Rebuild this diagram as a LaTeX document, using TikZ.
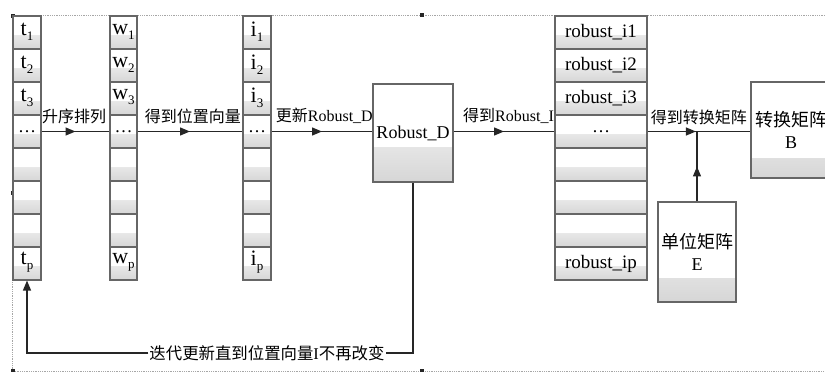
\documentclass[tikz,border=0pt]{standalone}
\usepackage{fontspec}
\setmainfont{Liberation Serif}
\newfontfamily\cjk{Noto Sans CJK SC}
\usetikzlibrary{arrows.meta,decorations.markings}
\newcommand\lsub[1]{\raisebox{-5pt}{\fontsize{13}{13}\selectfont #1}}
\tikzset{
  bottomshade/.style={path picture={\shade[top color=white,bottom color=black!16]
     (path picture bounding box.south west) rectangle ([yshift=#1]path picture bounding box.south east);}},
  cellbox/.style={draw=black!60, line width=1.1pt, minimum width=#1, minimum height=33pt,
     inner sep=0pt, fill=white, bottomshade=14pt},
  cellbox/.default=28pt,
  rcell/.style={cellbox=92pt},
  ctext/.style={inner sep=0pt, font=\fontsize{22}{22}\selectfont},
  rtext/.style={inner sep=0pt, font=\fontsize{19}{19}\selectfont},
  bigbox/.style={draw=black!60, line width=1.1pt, inner sep=0pt, fill=white, align=center,
     font=\fontsize{18}{22}\selectfont},
  lbl/.style={inner sep=0pt, font=\fontsize{16}{16}\selectfont},
  flow/.style={draw=black!85, line width=1.3pt},
  midarrow/.style={postaction={decorate}, decoration={markings,
     mark=at position #1 with {\arrow{Triangle[length=10pt,width=8pt]}}}},
  handle/.style={fill=black!85},
}
\begin{document}
\begin{tikzpicture}[x=1pt,y=-1pt]
\useasboundingbox (0,0) rectangle (825,372);
\clip (0,0) rectangle (825,372);
% selection frame
\draw[black!35, densely dotted, line width=0.8pt] (825,15) -- (12,15) -- (12,371) -- (825,371);
\foreach \hx/\hy in {13/16,13/193,13/371,422/15,422/371}
  \fill[handle] (\hx-2,\hy-2) rectangle (\hx+2,\hy+2);

% labels (drawn before columns)
\node[lbl, anchor=south west] (l1) at (42,124) {\cjk 升序排列};
\node[lbl, anchor=south east] (l2) at (241,124) {\cjk 得到位置向量};
\node[lbl, anchor=south east] (l3) at (373,124) {{\cjk 更新}Robust\_D};
\node[lbl, anchor=south west] (l4) at (463,124) {{\cjk 得到}Robust\_I};
\node[lbl, anchor=south east] (l5) at (747,125) {\cjk 得到转换矩阵};

% columns
\foreach \r/\yy in {1/32.5,2/65.5,3/98.5,4/131.5,5/164.5,6/197.5,7/230.5,8/263.5}{
  \node[cellbox] (t\r) at (27,\yy) {};
  \node[cellbox=27pt] (w\r) at (123.5,\yy) {};
  \node[cellbox] (i\r) at (257,\yy) {};
  \node[rcell] (r\r) at (601,\yy) {};
}
\foreach \r in {1,2,3}{
  \node[ctext] at ([yshift=1pt]t\r) {t\lsub{\r}};
  \node[ctext] at ([yshift=1pt]w\r) {w\lsub{\r}};
  \node[ctext] at ([yshift=1pt]i\r) {i\lsub{\r}};
  \node[rtext] at (r\r) {robust\_i\r};
}
\node[ctext, font=\fontsize{18}{18}\selectfont] at (t4) {\dots};
\node[ctext, font=\fontsize{18}{18}\selectfont] at (w4) {\dots};
\node[ctext, font=\fontsize{18}{18}\selectfont] at (i4) {\dots};
\node[ctext, font=\fontsize{18}{18}\selectfont] at (r4) {\dots};
\node[ctext] at ([yshift=1pt]t8) {t\lsub{p}};
\node[ctext] at ([yshift=1pt]w8) {w\lsub{p}};
\node[ctext] at ([yshift=1pt]i8) {i\lsub{p}};
\node[rtext] at (r8) {robust\_ip};

% boxes
\node[bigbox, minimum width=80pt, minimum height=98pt, bottomshade=35pt] (RD) at (413,133) {Robust\_D};
\node[bigbox, minimum width=80pt, minimum height=96pt, bottomshade=20pt] (B) at (791,130) {{\cjk 转换矩阵}\\B};
\node[bigbox, minimum width=78pt, minimum height=100pt, bottomshade=24pt] (E) at (697,252) {{\cjk 单位矩阵}\\E};

% flows
\draw[flow, midarrow=0.5] (t4.east) -- (w4.west);
\draw[flow, midarrow=0.5] (w4.east) -- (i4.west);
\draw[flow, midarrow=0.5] (i4.east) -- (i4.east -| RD.west);
\draw[flow, midarrow=0.5] (RD.east |- r4.west) -- (r4.west);
\coordinate (j) at (E.north |- r4.east);
\draw[flow, midarrow=0.47] (r4.east) -- (r4.east -| B.west);
\draw[flow, midarrow=0.5] (E.north) -- (j);

% feedback
\node[lbl, fill=white, inner sep=1pt, font=\fontsize{16.4}{16.4}\selectfont] (fb) at (267,353) {{\cjk 迭代更新直到位置向量}I{\cjk 不再改变}};
\draw[flow] (RD.south) |- (fb.east);
\draw[flow, -{Triangle[length=10pt,width=8pt]}] (fb.west) -| (t8.south);
\end{tikzpicture}
\end{document}
